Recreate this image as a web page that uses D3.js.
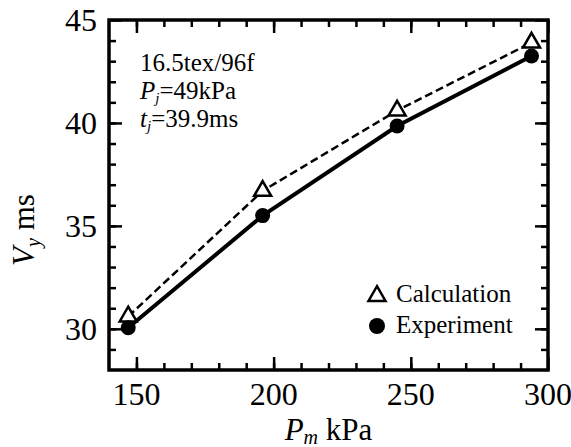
<!DOCTYPE html>
<html>
<head>
<meta charset="utf-8">
<script src="https://cdn.jsdelivr.net/npm/d3@7"></script>
<style>
  body { margin: 0; background: #fff; }
</style>
</head>
<body>
<div id="chart"></div>
<script>
// data
var pressure = [147, 196, 245, 294];          // P_m, kPa
var calculation = [30.6, 36.7, 40.6, 43.9];   // V_y, ms
var experiment = [30.05, 35.5, 39.85, 43.25];
var xTicks = [150, 200, 250, 300];
var yTicks = [30, 35, 40, 45];
var notes = ["16.5tex/96f", "P|j|=49kPa", "t|j|=39.9ms"];
var seriesNames = ["Calculation", "Experiment"];

var svgWidth = 571;
var svgHeight = 447;
var margin = { top: 20, right: 23, bottom: 77, left: 109 };
var width = svgWidth - margin.left - margin.right;
var height = svgHeight - margin.top - margin.bottom;

var svg = d3.select("#chart")
  .append("svg")
  .attr("width", svgWidth)
  .attr("height", svgHeight)
  .style("font-family", "\"Liberation Serif\", \"Times New Roman\", serif");

var chartGroup = svg.append("g")
  .attr("transform", `translate(${margin.left}, ${margin.top})`);

var x = d3.scaleLinear().domain([140, 300]).range([0, width]);
var y = d3.scaleLinear().domain([28, 45]).range([height, 0]);

// ticks point inward, on all four sides
function tickAxis(axis, vals, len, transform) {
  var g = chartGroup.append("g")
    .attr("transform", transform)
    .call(axis.tickValues(vals).tickSize(len).tickFormat(""));
  g.select(".domain").remove();
  g.selectAll("line").attr("stroke", "#000").attr("stroke-width", 2.5);
  return g;
}
var xMinor = d3.range(150, 300, 10);
var yMinor = d3.range(29, 45, 1);
tickAxis(d3.axisTop(x), xMinor, 7, `translate(0, ${height})`);
tickAxis(d3.axisTop(x), xTicks, 13, `translate(0, ${height})`);
tickAxis(d3.axisBottom(x), xMinor, 7, "translate(0, 0)");
tickAxis(d3.axisBottom(x), xTicks, 13, "translate(0, 0)");
tickAxis(d3.axisRight(y), yMinor, 7, "translate(0, 0)");
tickAxis(d3.axisRight(y), yTicks, 13, "translate(0, 0)");
tickAxis(d3.axisLeft(y), yMinor, 7, `translate(${width}, 0)`);
tickAxis(d3.axisLeft(y), yTicks, 13, `translate(${width}, 0)`);

// tick labels
chartGroup.append("g").selectAll("text")
  .data(xTicks)
  .enter()
  .append("text")
  .attr("x", d => x(d))
  .attr("y", height + 35)
  .attr("text-anchor", "middle")
  .attr("font-size", "32px")
  .text(d => d);

chartGroup.append("g").selectAll("text")
  .data(yTicks)
  .enter()
  .append("text")
  .attr("x", -12)
  .attr("y", d => y(d) + 11)
  .attr("text-anchor", "end")
  .attr("font-size", "32px")
  .text(d => d);

// frame
chartGroup.append("rect")
  .attr("width", width)
  .attr("height", height)
  .attr("fill", "none")
  .attr("stroke", "#000")
  .attr("stroke-width", 3.5);

var calcData = pressure.map((p, i) => [p, calculation[i]]);
var expData = pressure.map((p, i) => [p, experiment[i]]);
var line = d3.line().x(d => x(d[0])).y(d => y(d[1]));

chartGroup.append("path")
  .datum(calcData)
  .attr("d", line)
  .attr("fill", "none")
  .attr("stroke", "#000")
  .attr("stroke-width", 2.5)
  .attr("stroke-dasharray", "8,4");

chartGroup.append("path")
  .datum(expData)
  .attr("d", line)
  .attr("fill", "none")
  .attr("stroke", "#000")
  .attr("stroke-width", 4);

var tri = d3.symbol().type(d3.symbolTriangle).size(125);

chartGroup.selectAll(".tri")
  .data(calcData)
  .enter()
  .append("path")
  .attr("class", "tri")
  .attr("transform", d => `translate(${x(d[0])}, ${y(d[1])})`)
  .attr("d", tri)
  .attr("fill", "#fff")
  .attr("stroke", "#000")
  .attr("stroke-width", 2.5);

chartGroup.selectAll(".dot")
  .data(expData)
  .enter()
  .append("circle")
  .attr("class", "dot")
  .attr("cx", d => x(d[0]))
  .attr("cy", d => y(d[1]))
  .attr("r", 7.5)
  .attr("fill", "#000");

// annotation, "|j|" marks an italic subscript
var noteGroup = chartGroup.append("g");
notes.forEach(function(s, i) {
  var t = noteGroup.append("text")
    .attr("x", 31)
    .attr("y", 51 + i * 28)
    .attr("font-size", "25px");
  var parts = s.split("|");
  if (parts.length === 1) {
    t.text(s);
  } else {
    t.append("tspan").attr("font-style", "italic").text(parts[0]);
    t.append("tspan").attr("font-style", "italic").attr("font-size", "15px").attr("dy", 4).text(parts[1]);
    t.append("tspan").attr("dy", -4).text(parts[2]);
  }
});

// legend
var legend = chartGroup.append("g");
legend.append("path")
  .attr("transform", "translate(268, 276)")
  .attr("d", tri)
  .attr("fill", "#fff")
  .attr("stroke", "#000")
  .attr("stroke-width", 2.5);
legend.append("circle")
  .attr("cx", 268)
  .attr("cy", 306)
  .attr("r", 8)
  .attr("fill", "#000");
legend.selectAll("text")
  .data(seriesNames)
  .enter()
  .append("text")
  .attr("x", 287)
  .attr("y", (d, i) => 282 + i * 31)
  .attr("font-size", "25px")
  .text(d => d);

// axis labels
var yLabel = svg.append("text")
  .attr("transform", `translate(34, ${margin.top + y(34.8)}) rotate(-90)`)
  .attr("text-anchor", "middle")
  .attr("font-size", "31px");
yLabel.append("tspan").attr("font-style", "italic").text("V");
yLabel.append("tspan").attr("font-style", "italic").attr("font-size", "20px").attr("dy", 6).text("y");
yLabel.append("tspan").attr("dy", -6).text(" ms");

var xLabel = svg.append("text")
  .attr("x", margin.left + width / 2)
  .attr("y", 440)
  .attr("text-anchor", "middle")
  .attr("font-size", "31px");
xLabel.append("tspan").attr("font-style", "italic").text("P");
xLabel.append("tspan").attr("font-style", "italic").attr("font-size", "20px").attr("dy", 4).text("m");
xLabel.append("tspan").attr("dy", -4).text(" kPa");
</script>
</body>
</html>
